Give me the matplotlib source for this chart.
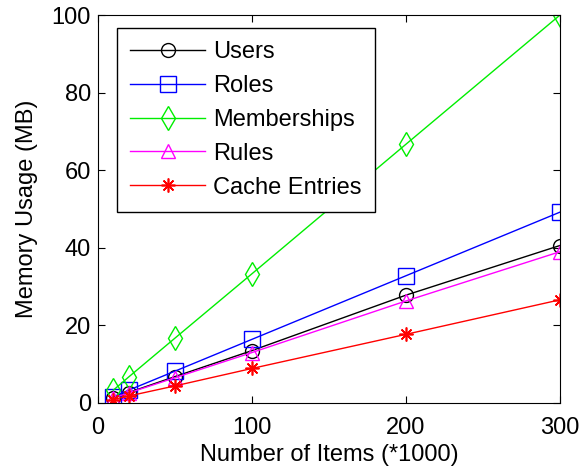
import numpy as np
import matplotlib.pyplot as plt

plt.rcParams['font.family'] = ['Liberation Sans', 'DejaVu Sans']

items = [10, 20, 50, 100, 200, 300]
users = [1.4, 2.7, 6.8, 13.5, 27.8, 40.6]
roles = [1.6, 3.3, 8.2, 16.4, 32.8, 49.2]
memberships = [3.3, 6.7, 16.7, 33.3, 66.7, 100.0]
rules = [1.3, 2.6, 6.5, 13.0, 26.3, 39.0]
cache = [0.9, 1.8, 4.4, 8.9, 17.7, 26.6]

fig = plt.figure(figsize=(5.79, 4.73), dpi=100)
ax = fig.add_axes([0.169, 0.148, 0.798, 0.820])

fs = 17
ax.plot(items, users, color='black', marker='o', mfc='none', ms=10, lw=1, label='Users')
ax.plot(items, roles, color='blue', marker='s', mfc='none', ms=11, lw=1, label='Roles')
ax.plot(items, memberships, color='#00ee00', marker='d', mfc='none', ms=12, lw=1, label='Memberships')
ax.plot(items, rules, color='magenta', marker='^', mfc='none', ms=10, lw=1, label='Rules')
ax.plot(items, cache, color='red', marker=(8, 2, 0), ms=10, mew=1.2, lw=1, label='Cache Entries')

ax.set_xlim(0, 300)
ax.set_ylim(0, 100)
ax.set_xticks([0, 100, 200, 300])
ax.set_yticks([0, 20, 40, 60, 80, 100])
ax.tick_params(direction='in', top=True, right=True, labelsize=fs, length=5)
ax.tick_params(axis='x', pad=10)
ax.tick_params(axis='y', pad=5)
ax.set_xlabel('Number of Items (*1000)', fontsize=fs, labelpad=4)
ax.set_ylabel('Memory Usage (MB)', fontsize=fs, labelpad=10)

leg = ax.legend(loc='upper left', bbox_to_anchor=(0.041, 0.966), fontsize=fs,
                fancybox=False, edgecolor='black', framealpha=1,
                handlelength=3.2, handletextpad=0.34, labelspacing=0.5,
                borderpad=0.55, borderaxespad=0)
leg.get_frame().set_linewidth(1)

fig.savefig('out.png')
